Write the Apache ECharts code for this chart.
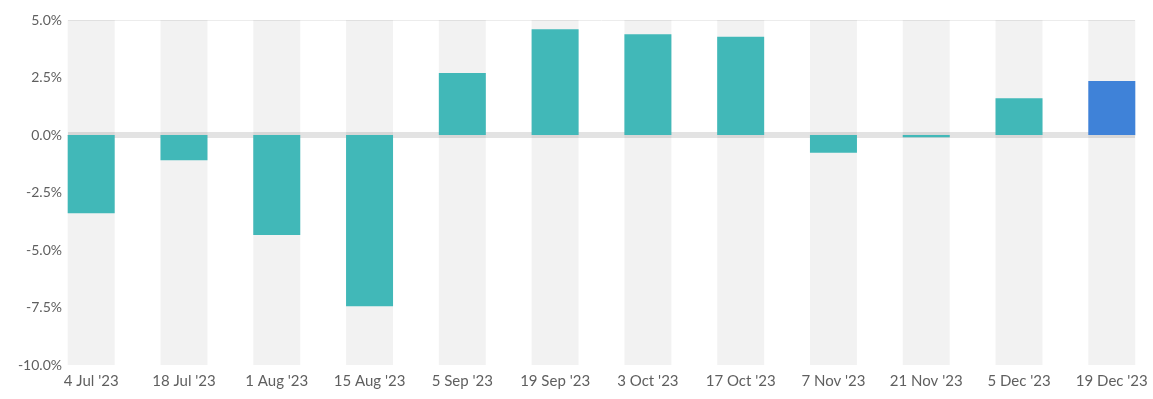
<!DOCTYPE html>
<html>
<head>
<meta charset="utf-8">
<script src="https://cdn.jsdelivr.net/npm/echarts@6/dist/echarts.min.js"></script>
<style>
  html, body { margin: 0; padding: 0; background: #fff; }
  #chart { width: 1153px; height: 399px; }
</style>
</head>
<body>
<div id="chart"></div>
<script>
// 各期日期标签
const dates = ["4 Jul '23", "18 Jul '23", "1 Aug '23", "15 Aug '23", "5 Sep '23", "19 Sep '23",
  "3 Oct '23", "17 Oct '23", "7 Nov '23", "21 Nov '23", "5 Dec '23", "19 Dec '23"];
// 变化率 (%)
const changes = [-3.4, -1.1, -4.35, -7.45, 2.7, 4.6, 4.38, 4.27, -0.77, -0.1, 1.6, 2.35];
const yTicks = [-10, -7.5, -5, -2.5, 0, 2.5, 5];

const teal = '#41b8b8';
const blue = '#3f82d8';
const labelColor = '#5f5f5f';

const chart = echarts.init(document.getElementById('chart'));

const option = {
  animation: false,
  grid: { left: 68, right: 18, top: 20, bottom: 34 },
  xAxis: {
    type: 'value',
    min: -0.25,
    max: dates.length - 0.75,
    splitLine: { show: false },
    axisTick: { show: false },
    axisLine: { show: true, lineStyle: { color: '#ececec', width: 1 } },
    axisLabel: {
      customValues: dates.map((d, i) => i),
      formatter: v => dates[Math.round(v)],
      color: labelColor,
      fontFamily: 'Lato',
      fontSize: 15,
      margin: 9
    }
  },
  yAxis: {
    type: 'value',
    min: yTicks[0],
    max: yTicks[yTicks.length - 1],
    interval: 2.5,
    splitLine: { show: false },
    axisLine: { show: false },
    axisTick: { show: false },
    axisLabel: {
      formatter: v => v.toFixed(1) + '%',
      color: labelColor,
      fontFamily: 'Lato',
      fontSize: 14,
      margin: 6
    }
  },
  series: [
    {
      // 参考线，放在柱子下面
      type: 'line',
      data: [],
      z: 1,
      markLine: {
        silent: true,
        z: 1,
        symbol: 'none',
        label: { show: false },
        data: [
          { yAxis: 0, lineStyle: { color: '#e3e3e3', width: 6, type: 'solid' } },
          { yAxis: 5, lineStyle: { color: '#ececec', width: 1, type: 'solid' } }
        ]
      }
    },
    {
      type: 'bar',
      z: 2,
      barWidth: 47,
      barMinHeight: 2,
      showBackground: true,
      backgroundStyle: { color: 'rgba(0,0,0,0.05)' },
      data: changes.map((v, i) => ({
        value: [i, v],
        itemStyle: { color: i === changes.length - 1 ? blue : teal }
      }))
    }
  ]
};

chart.setOption(option);
</script>
</body>
</html>
